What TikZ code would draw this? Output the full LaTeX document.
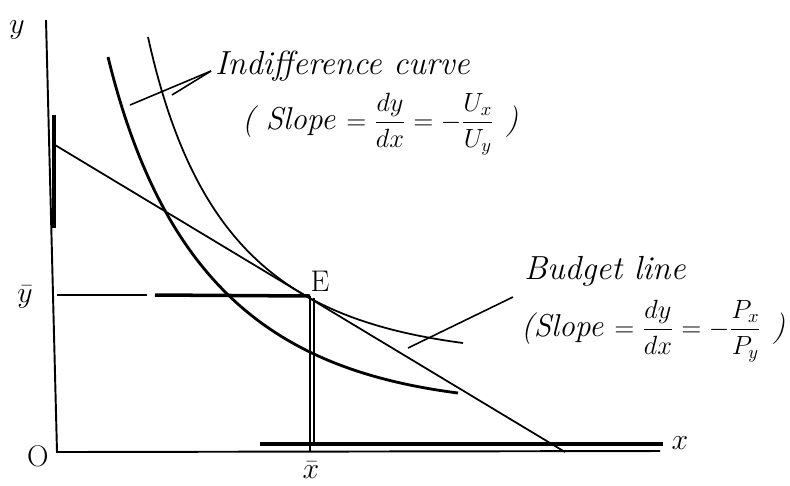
\documentclass[tikz,border=0pt]{standalone}
\usepackage{fix-cm}
\usepackage{amsmath}
\usepackage{fontspec}
\usetikzlibrary{positioning}
\newcommand{\smallmath}[1]{{\fontsize{15}{18}\selectfont$#1$}}
\begin{document}
\begin{tikzpicture}[x=0.02cm, y=-0.02cm, node distance=0.3cm]
        % Define styles
        \tikzstyle{axis} = [line width=1.1pt, black]
        \tikzstyle{bold} = [line width=2pt, black]
        \tikzstyle{curve} = [line width=1.6pt, black]
        \tikzstyle{thincurve} = [line width=1pt, black]
        \tikzstyle{hand} = [font=\fontsize{19}{22}\selectfont\itshape, inner sep=1pt]
        \tikzstyle{formula} = [font=\fontsize{18}{21}\selectfont\itshape, inner sep=1pt]
        \tikzstyle{axislabel} = [font=\fontsize{17}{20}\selectfont, inner sep=1pt]
        \tikzstyle{leader} = [line width=0.9pt, black]

        \useasboundingbox (0,0) rectangle (790,485);

        % Axes
        \coordinate (O) at (57,452);
        \coordinate (ytop) at (46,20);
        \coordinate (xend) at (660,451);
        \draw [axis] (ytop) -- (O) -- (xend);
        \draw [bold] (54,115) -- (54,228);
        \draw [bold] (260,444) -- (663,444);

        % Equilibrium E
        \coordinate (E) at (310,296);
        \draw [axis] (57,295) -- (147,295);
        \draw [bold] (155,295) -- (E);
        \draw [axis] (E) -- (310,452);
        \draw [axis] (314,298) -- (314,444);

        % Budget line
        \coordinate (bA) at (55,145);
        \coordinate (bB) at (565,452);
        \draw [thincurve] (bA) -- (bB);

        % Indifference curves
        \draw [curve] (108,57) .. controls (165,290) and (280,370) .. (458,393);
        \draw [thincurve] (148,37) .. controls (195,250) and (290,320) .. (463,343);

        % Labels
        \node (ylab) [axislabel] at (17,30) {$y$};
        \node (ybar) [axislabel] at (25,297) {$\bar{y}$};
        \node (olab) [axislabel] at (38,456) {O};
        \node (xbar) [axislabel] at (311,470) {$\bar{x}$};
        \node (xlab) [axislabel] at (680,443) {$x$};
        \node (elab) [axislabel] at (320,281) {E};

        \node (ic) [hand, anchor=west] at (213,66) {Indifference curve};
        \node (icslope) [formula, below=0.16cm of ic.south west, anchor=north west, xshift=0.54cm]
            {( Slope \smallmath{= \dfrac{dy}{dx} = -\dfrac{U_x}{U_y}} )};
        \node (bl) [hand, anchor=west] at (522,271) {Budget line};
        \node (blslope) [formula, below=0.2cm of bl.south west, anchor=north west, xshift=-0.06cm]
            {(Slope \smallmath{= \dfrac{dy}{dx} = -\dfrac{P_x}{P_y}} )};

        % Leaders
        \coordinate (icA) at (211,71);
        \coordinate (icL) at (130,105);
        \coordinate (icR) at (172,95);
        \draw [leader] (icA) -- (icL);
        \draw [leader] (icA) -- (icR);
        \coordinate (blA) at (513,297);
        \coordinate (blL) at (408,348);
        \draw [leader] (blA) -- (blL);
    \end{tikzpicture}
\end{document}
